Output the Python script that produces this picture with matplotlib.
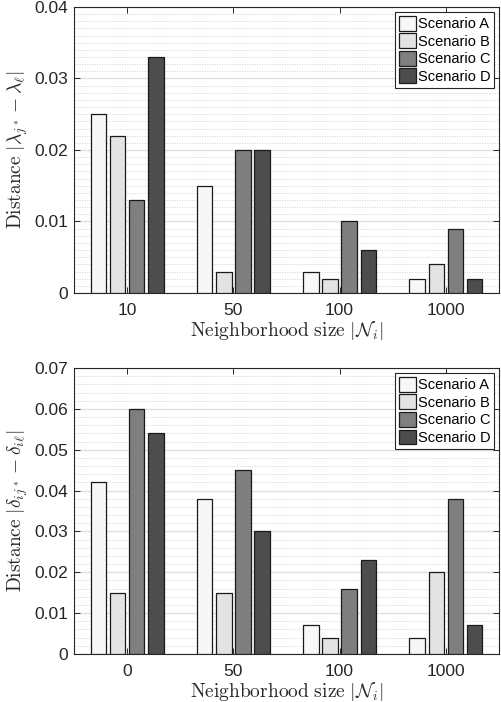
import numpy as np
import matplotlib
matplotlib.use('Agg')
import matplotlib.pyplot as plt
from matplotlib.ticker import MultipleLocator

plt.rcParams['font.family'] = ['Liberation Sans', 'DejaVu Sans']
plt.rcParams['mathtext.fontset'] = 'cm'

scenarios = ['Scenario A', 'Scenario B', 'Scenario C', 'Scenario D']
colors = ['#f7f7f7', '#e3e3e3', '#7f7f7f', '#4d4d4d']

top_labels = ['10', '50', '100', '1000']
top_vals = [
    [0.025, 0.015, 0.003, 0.002],   # A
    [0.022, 0.003, 0.002, 0.004],   # B
    [0.013, 0.020, 0.010, 0.009],   # C
    [0.033, 0.020, 0.006, 0.002],   # D
]

bot_labels = ['0', '50', '100', '1000']
bot_vals = [
    [0.042, 0.038, 0.007, 0.004],
    [0.015, 0.015, 0.004, 0.020],
    [0.060, 0.045, 0.016, 0.038],
    [0.054, 0.030, 0.023, 0.007],
]

W, H = 501, 702
fig = plt.figure(figsize=(W / 100, H / 100), dpi=100)


def draw(rect, labels, vals, ymax, ystep, minor, ylabel):
    ax = fig.add_axes(rect)
    x = np.arange(1, len(labels) + 1)
    offs = [-0.27, -0.09, 0.09, 0.27]
    for k, name in enumerate(scenarios):
        ax.bar(x + offs[k], vals[k], width=0.145, color=colors[k],
               edgecolor='#1a1a1a', linewidth=0.9, label=name, zorder=3)
    ax.set_xlim(0.5, len(labels) + 0.5)
    ax.set_ylim(0, ymax)
    ax.set_xticks(x)
    ax.set_xticklabels(labels)
    ax.yaxis.set_major_locator(MultipleLocator(ystep))
    ax.yaxis.set_minor_locator(MultipleLocator(minor))
    ax.yaxis.set_major_formatter(matplotlib.ticker.FuncFormatter(
        lambda v, p: '0' if abs(v) < 1e-12 else ('%.2f' % v)))
    ax.grid(True, which='major', axis='y', color='#e0e0e0', linewidth=1.0, zorder=0)
    ax.grid(True, which='minor', axis='y', color='#d6d6d6', linewidth=0.6,
            linestyle=(0, (1.5, 1.5)), zorder=0)
    ax.tick_params(which='major', direction='in', top=True, right=True,
                   length=4, width=0.7, labelsize=12.5, colors='#262626', pad=4)
    ax.tick_params(which='minor', length=0, left=False, right=False)
    ax.tick_params(axis='x', pad=7)
    for s in ax.spines.values():
        s.set_color('#262626')
        s.set_linewidth(0.8)
    ax.set_xlabel(r'$\mathrm{Neighborhood\ size}\ |\mathcal{N}_i|$', fontsize=14,
                  color='#262626', labelpad=1)
    ax.set_ylabel(ylabel, fontsize=14, color='#262626', labelpad=3)
    leg = ax.legend(loc='upper right', fontsize=10.5, fancybox=False,
                    edgecolor='#262626', framealpha=1, borderpad=0.25,
                    labelspacing=0.15, handlelength=1.2, handleheight=1.2,
                    handletextpad=0.1, borderaxespad=0.35)
    leg.get_frame().set_linewidth(0.8)
    return ax


draw([74 / W, 1 - 293 / H, 425 / W, 286 / H], top_labels, top_vals, 0.04, 0.01, 0.001,
     r'$\mathrm{Distance}\ |\lambda_{j^*}-\lambda_\ell|$')
draw([74 / W, 1 - 654 / H, 425 / W, 286 / H], bot_labels, bot_vals, 0.07, 0.01, 0.002,
     r'$\mathrm{Distance}\ |\delta_{ij^*}-\delta_{i\ell}|$')

fig.savefig('out.png', dpi=100)
